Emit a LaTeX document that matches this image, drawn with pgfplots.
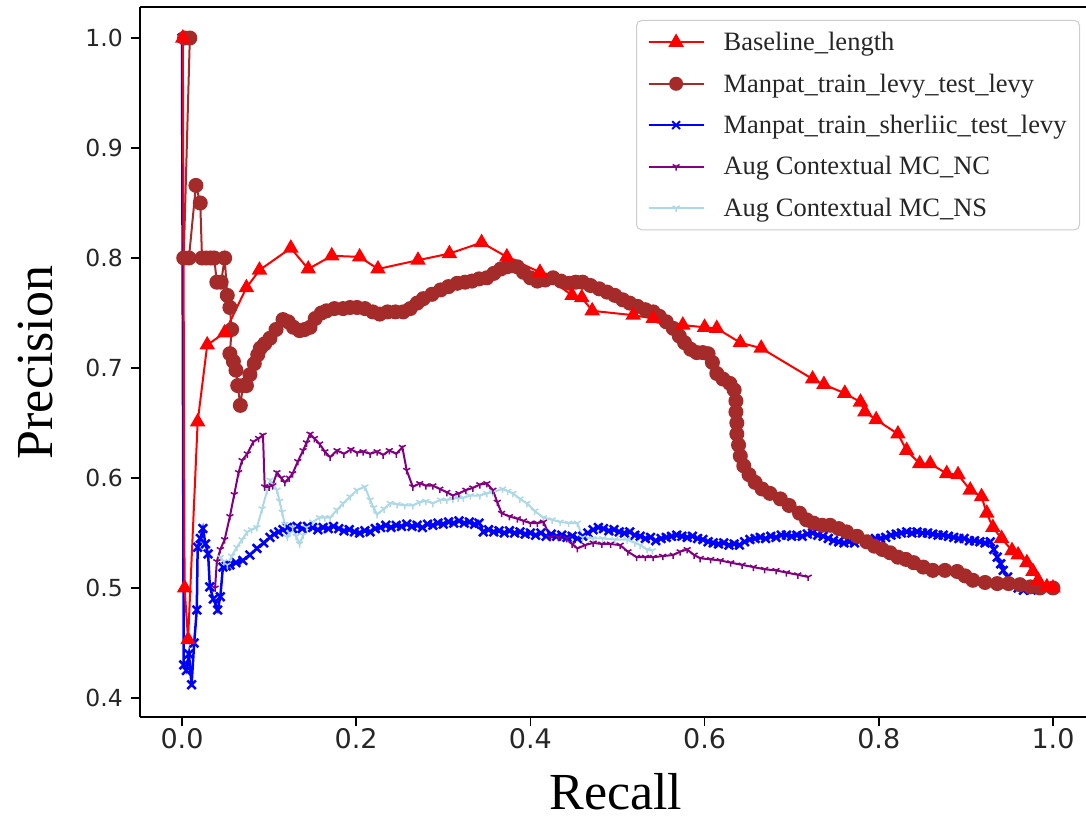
\documentclass[border=0pt]{standalone}
\usepackage{pgfplots}
\pgfplotsset{compat=1.18}
\usetikzlibrary{plotmarks}
\usepackage{fontspec}
\setmainfont{Liberation Serif}
\newfontfamily\dejavu{DejaVu Sans}
\definecolor{mplbrown}{HTML}{A52A2A}
\definecolor{mplpurple}{HTML}{800080}
\definecolor{mpllightblue}{HTML}{ADD8E6}
\begin{document}
\begin{tikzpicture}
\begin{axis}[
  scale only axis, width=946bp, height=710bp,
  xmin=-0.0482, xmax=1.0379, ymin=0.3827, ymax=1.0282,
  axis x line=box, axis y line=left,
  axis line style={-, line width=1.5bp, black},
  xtick={0,0.2,0.4,0.6,0.8,1.0},
  xticklabels={0.0,0.2,0.4,0.6,0.8,1.0},
  ytick={0.4,0.5,0.6,0.7,0.8,0.9,1.0},
  yticklabels={0.4,0.5,0.6,0.7,0.8,0.9,1.0},
  xtick pos=left, ytick pos=left,
  tick align=outside, major tick length=9bp,
  tick style={line width=1.5bp, black},
  xticklabel style={font=\dejavu\fontsize{27bp}{30bp}\selectfont, text=black!85, anchor=north, inner sep=0pt, yshift=-2bp},
  yticklabel style={font=\dejavu\fontsize{23.5bp}{26bp}\selectfont, text=black!85, anchor=east, inner sep=0pt, xshift=-8bp},
  xlabel={Recall}, ylabel={Precision},
  every axis x label/.style={at={(axis description cs:0.503,-0.1296)}, anchor=base, inner sep=0pt, font=\fontsize{52bp}{60bp}\selectfont},
  every axis y label/.style={at={(axis description cs:-0.092,0.4993)}, anchor=base, rotate=90, inner sep=0pt, font=\fontsize{52bp}{60bp}\selectfont},
  legend style={at={(axis description cs:0.9937,0.9817)}, anchor=north east,
    draw=black!20, fill=white, rounded corners=5bp, line width=1bp,
    font=\fontsize{26.5bp}{30bp}\selectfont, text=black!85,
    inner xsep=11bp, inner ysep=10bp, row sep=17.5bp,
    /tikz/every odd column/.append style={column sep=17bp}},
  legend cell align=left,
  legend image code/.code={\draw[mark repeat=2,mark phase=2,#1] plot coordinates {(0bp,0bp) (27.5bp,0bp) (55bp,0bp)};},
]
\addlegendimage{red, line width=2bp, mark=triangle*, mark size=7bp, mark options={solid, fill=red}}
\addlegendentry{Baseline\_length}
\addlegendimage{mplbrown, line width=2bp, mark=*, mark size=6bp, mark options={solid, fill=mplbrown}}
\addlegendentry{Manpat\_train\_levy\_test\_levy}
\addlegendimage{blue, line width=2bp, mark=x, mark size=5.5bp, mark options={solid, line width=2bp}}
\addlegendentry{Manpat\_train\_sherliic\_test\_levy}
\addlegendimage{mplpurple, line width=2bp, mark=Mercedes star flipped, mark size=4bp, mark options={solid, line width=1.5bp}}
\addlegendentry{Aug Contextual MC\_NC}
\addlegendimage{mpllightblue, line width=2bp, mark=Mercedes star flipped, mark size=4bp, mark options={solid, line width=1.5bp}}
\addlegendentry{Aug Contextual MC\_NS}

% blue: Manpat_train_sherliic_test_levy
\addplot[forget plot, blue, line width=2.5bp, mark=x, mark size=6bp, mark options={solid, line width=2.5bp}] coordinates {
(0.000,1.000)(0.002,0.430)(0.005,0.425)(0.008,0.440)(0.011,0.412)(0.014,0.450)(0.017,0.480)(0.018,0.537)(0.021,0.545)(0.024,0.554)(0.027,0.540)(0.030,0.531)(0.032,0.501)(0.036,0.490)(0.041,0.480)(0.044,0.492)(0.047,0.519)(0.051,0.520)(0.055,0.521)(0.062,0.523)(0.070,0.525)(0.078,0.530)(0.086,0.536)(0.094,0.541)
(0.101,0.546)(0.106,0.549)(0.111,0.551)(0.116,0.553)(0.121,0.555)(0.127,0.554)(0.132,0.556)(0.138,0.554)(0.144,0.556)(0.150,0.555)(0.156,0.553)(0.162,0.555)(0.168,0.554)(0.174,0.556)(0.180,0.554)(0.186,0.552)(0.192,0.553)(0.198,0.551)(0.204,0.550)(0.210,0.552)(0.216,0.551)(0.222,0.554)(0.228,0.555)(0.234,0.557)(0.240,0.555)(0.246,0.557)(0.252,0.556)(0.258,0.558)(0.264,0.556)(0.270,0.557)(0.276,0.555)(0.282,0.558)(0.288,0.557)(0.294,0.559)(0.300,0.558)(0.306,0.560)(0.312,0.559)(0.318,0.561)(0.324,0.559)(0.330,0.560)(0.336,0.558)(0.341,0.559)(0.346,0.551)(0.352,0.553)(0.358,0.551)(0.364,0.552)(0.370,0.550)(0.376,0.552)(0.382,0.550)(0.388,0.551)(0.394,0.549)(0.400,0.550)(0.406,0.548)(0.412,0.550)(0.418,0.547)(0.424,0.549)(0.430,0.547)(0.436,0.548)(0.442,0.546)(0.448,0.547)(0.454,0.545)(0.460,0.547)(0.466,0.550)(0.472,0.553)(0.478,0.555)(0.484,0.554)(0.490,0.552)(0.496,0.553)(0.502,0.551)(0.508,0.550)(0.514,0.551)(0.520,0.548)(0.526,0.547)(0.532,0.545)(0.538,0.546)(0.544,0.543)(0.550,0.545)(0.556,0.546)(0.562,0.547)(0.568,0.548)(0.574,0.547)(0.580,0.546)(0.586,0.547)(0.592,0.545)(0.598,0.544)(0.604,0.542)(0.610,0.541)(0.616,0.540)(0.622,0.541)(0.628,0.539)(0.634,0.540)(0.640,0.539)(0.646,0.542)(0.652,0.544)(0.658,0.545)(0.664,0.546)(0.670,0.545)(0.676,0.547)(0.682,0.546)(0.688,0.548)(0.694,0.548)(0.700,0.547)(0.706,0.548)(0.712,0.547)(0.718,0.549)(0.724,0.550)(0.730,0.548)(0.736,0.547)(0.742,0.545)(0.748,0.543)(0.754,0.542)(0.760,0.541)(0.766,0.542)(0.772,0.541)(0.778,0.543)(0.784,0.544)(0.790,0.543)(0.796,0.545)(0.802,0.545)(0.808,0.546)(0.814,0.548)(0.820,0.549)(0.826,0.550)(0.832,0.551)(0.838,0.550)(0.844,0.551)(0.850,0.550)(0.856,0.550)(0.862,0.549)(0.868,0.548)(0.874,0.548)(0.880,0.547)(0.886,0.546)(0.892,0.545)(0.898,0.545)(0.904,0.543)(0.910,0.543)(0.916,0.542)(0.922,0.541)(0.928,0.542)
(0.932,0.535)(0.936,0.528)(0.940,0.522)(0.943,0.516)(0.948,0.510)(0.954,0.504)(0.960,0.500)(0.966,0.498)(0.975,0.498)(0.985,0.499)(1.000,0.500)
};
% light blue: Aug Contextual MC_NS
\addplot[forget plot, mpllightblue, line width=2bp, mark=Mercedes star flipped, mark size=4bp, mark options={solid, line width=1.5bp}] coordinates {
(0.044,0.528)(0.048,0.524)(0.052,0.521)(0.057,0.529)(0.063,0.537)(0.069,0.544)(0.075,0.551)(0.080,0.553)(0.086,0.555)(0.092,0.572)(0.098,0.589)(0.101,0.598)(0.105,0.594)(0.109,0.589)(0.112,0.579)(0.115,0.569)(0.118,0.558)(0.121,0.546)(0.124,0.550)(0.127,0.555)(0.131,0.547)(0.135,0.540)(0.139,0.548)(0.143,0.555)(0.150,0.560)(0.158,0.564)(0.164,0.564)(0.170,0.564)(0.178,0.571)(0.185,0.577)(0.193,0.583)(0.201,0.589)(0.210,0.592)(0.216,0.580)(0.220,0.573)(0.224,0.567)(0.232,0.572)(0.239,0.577)(0.247,0.576)(0.256,0.575)(0.265,0.575)(0.273,0.578)(0.280,0.579)(0.288,0.577)(0.297,0.580)(0.304,0.580)(0.311,0.581)(0.317,0.582)(0.323,0.582)(0.331,0.584)(0.342,0.584)(0.350,0.586)(0.357,0.587)(0.368,0.590)(0.374,0.588)(0.380,0.586)(0.388,0.581)(0.396,0.577)(0.405,0.570)(0.415,0.564)(0.425,0.562)(0.434,0.560)(0.444,0.559)(0.454,0.559)(0.460,0.546)(0.472,0.545)(0.483,0.545)(0.497,0.544)(0.511,0.544)(0.520,0.541)(0.526,0.539)(0.534,0.535)(0.540,0.534)
};
% purple: Aug Contextual MC_NC
\addplot[forget plot, mplpurple, line width=2bp, mark=Mercedes star flipped, mark size=4bp, mark options={solid, line width=1.5bp}] coordinates {
(0.038,0.500)(0.040,0.524)(0.044,0.535)(0.049,0.544)(0.055,0.565)(0.060,0.585)(0.065,0.605)(0.069,0.616)(0.075,0.622)(0.082,0.633)(0.088,0.636)(0.093,0.639)(0.095,0.592)(0.100,0.592)(0.104,0.593)(0.109,0.605)(0.114,0.600)(0.118,0.596)(0.123,0.600)(0.127,0.604)(0.133,0.615)(0.139,0.625)(0.143,0.632)(0.147,0.640)(0.152,0.636)(0.158,0.631)(0.164,0.624)(0.170,0.619)(0.178,0.625)(0.186,0.622)(0.194,0.626)(0.201,0.623)(0.208,0.624)(0.216,0.622)(0.224,0.624)(0.231,0.621)(0.238,0.625)(0.246,0.622)(0.253,0.628)(0.258,0.607)(0.265,0.592)(0.273,0.595)(0.280,0.593)(0.288,0.593)(0.296,0.590)(0.304,0.587)(0.311,0.584)(0.318,0.586)(0.326,0.589)(0.334,0.591)(0.342,0.594)(0.350,0.595)(0.357,0.589)(0.362,0.578)(0.367,0.568)(0.376,0.565)(0.385,0.563)(0.392,0.561)(0.400,0.559)(0.408,0.559)(0.415,0.560)(0.423,0.546)(0.432,0.546)(0.442,0.545)(0.448,0.540)(0.454,0.536)(0.463,0.539)(0.472,0.541)(0.482,0.540)(0.492,0.540)(0.503,0.539)(0.512,0.533)(0.522,0.528)(0.532,0.528)(0.541,0.528)(0.552,0.529)(0.564,0.530)(0.572,0.533)(0.580,0.535)(0.588,0.530)(0.595,0.527)(0.607,0.526)(0.618,0.525)(0.630,0.523)(0.643,0.521)(0.656,0.519)(0.669,0.517)(0.682,0.516)(0.694,0.514)(0.707,0.512)(0.719,0.510)
};
% brown: Manpat_train_levy_test_levy
\addplot[forget plot, mplbrown, line width=2bp, mark=*, mark size=6.5bp, mark options={solid, fill=mplbrown}] coordinates {
(0.003,1.000)(0.009,1.000)(0.002,0.800)(0.008,0.800)(0.016,0.866)(0.021,0.850)(0.023,0.800)(0.028,0.800)(0.033,0.800)(0.037,0.800)(0.040,0.778)(0.045,0.778)(0.049,0.800)(0.052,0.766)(0.055,0.755)(0.057,0.735)(0.055,0.713)(0.059,0.706)(0.062,0.698)(0.064,0.684)(0.067,0.666)(0.070,0.684)(0.074,0.684)(0.078,0.694)(0.083,0.704)(0.087,0.712)(0.090,0.718)(0.095,0.722)(0.101,0.727)(0.108,0.735)(0.116,0.744)(0.122,0.742)(0.128,0.737)(0.135,0.734)(0.141,0.735)(0.147,0.737)(0.153,0.745)(0.160,0.750)(0.166,0.752)(0.175,0.754)(0.185,0.754)(0.193,0.755)(0.201,0.755)(0.210,0.754)(0.219,0.751)(0.227,0.749)(0.236,0.751)(0.245,0.751)(0.254,0.751)(0.262,0.754)(0.270,0.759)(0.277,0.763)(0.287,0.767)(0.297,0.771)(0.306,0.774)(0.316,0.777)(0.325,0.778)(0.333,0.779)(0.341,0.781)(0.350,0.782)(0.358,0.786)(0.366,0.790)(0.373,0.792)(0.379,0.793)(0.385,0.792)(0.392,0.787)(0.400,0.782)(0.408,0.779)(0.417,0.780)(0.426,0.782)(0.435,0.779)(0.445,0.777)(0.452,0.778)(0.460,0.778)(0.469,0.775)(0.479,0.772)(0.488,0.769)(0.497,0.766)(0.506,0.762)(0.514,0.759)(0.523,0.756)(0.532,0.753)(0.541,0.751)(0.548,0.747)(0.556,0.742)(0.564,0.736)(0.571,0.729)(0.577,0.723)(0.584,0.717)(0.591,0.714)(0.598,0.714)(0.604,0.713)(0.609,0.705)(0.614,0.695)(0.621,0.690)(0.629,0.686)(0.634,0.680)(0.636,0.670)(0.636,0.660)(0.637,0.650)(0.637,0.640)(0.639,0.630)(0.641,0.620)(0.645,0.611)(0.651,0.603)(0.658,0.596)(0.666,0.590)(0.675,0.586)(0.687,0.581)(0.697,0.575)(0.709,0.568)(0.717,0.562)(0.725,0.559)(0.735,0.557)(0.744,0.557)(0.754,0.554)(0.763,0.551)(0.775,0.547)(0.786,0.542)(0.795,0.538)(0.804,0.535)(0.813,0.532)(0.822,0.528)(0.831,0.526)(0.840,0.523)(0.851,0.519)(0.862,0.516)(0.876,0.516)(0.890,0.515)(0.899,0.511)(0.908,0.507)(0.922,0.505)(0.936,0.504)(0.949,0.504)(0.962,0.503)(0.974,0.501)(0.985,0.500)(1.000,0.500)
};
% red: Baseline_length
\addplot[forget plot, red, line width=2bp, mark=triangle*, mark size=7bp, mark options={solid, fill=red}] coordinates {
(0.001,1.000)(0.003,0.500)(0.007,0.453)(0.018,0.651)(0.029,0.721)(0.049,0.732)(0.074,0.773)(0.089,0.789)(0.125,0.809)(0.145,0.790)(0.172,0.802)(0.204,0.801)(0.225,0.790)(0.271,0.798)(0.307,0.804)(0.344,0.814)(0.373,0.801)(0.411,0.787)(0.448,0.766)(0.459,0.764)(0.471,0.752)(0.518,0.748)(0.541,0.745)(0.575,0.739)(0.600,0.737)(0.614,0.736)(0.641,0.723)(0.665,0.718)(0.724,0.690)(0.737,0.685)(0.761,0.677)(0.779,0.669)(0.784,0.660)(0.797,0.653)(0.822,0.640)(0.832,0.625)(0.847,0.613)(0.859,0.613)(0.878,0.604)(0.891,0.603)(0.905,0.589)(0.918,0.583)(0.924,0.568)(0.931,0.555)(0.941,0.545)(0.953,0.534)(0.960,0.530)(0.970,0.523)(0.977,0.515)(0.983,0.507)(0.993,0.501)(1.000,0.500)
};
\end{axis}
\pgfresetboundingbox
\path[use as bounding box] ([xshift=-140bp,yshift=-102bp]current axis.south west) rectangle ([yshift=7bp]current axis.north east);
\end{tikzpicture}
\end{document}
